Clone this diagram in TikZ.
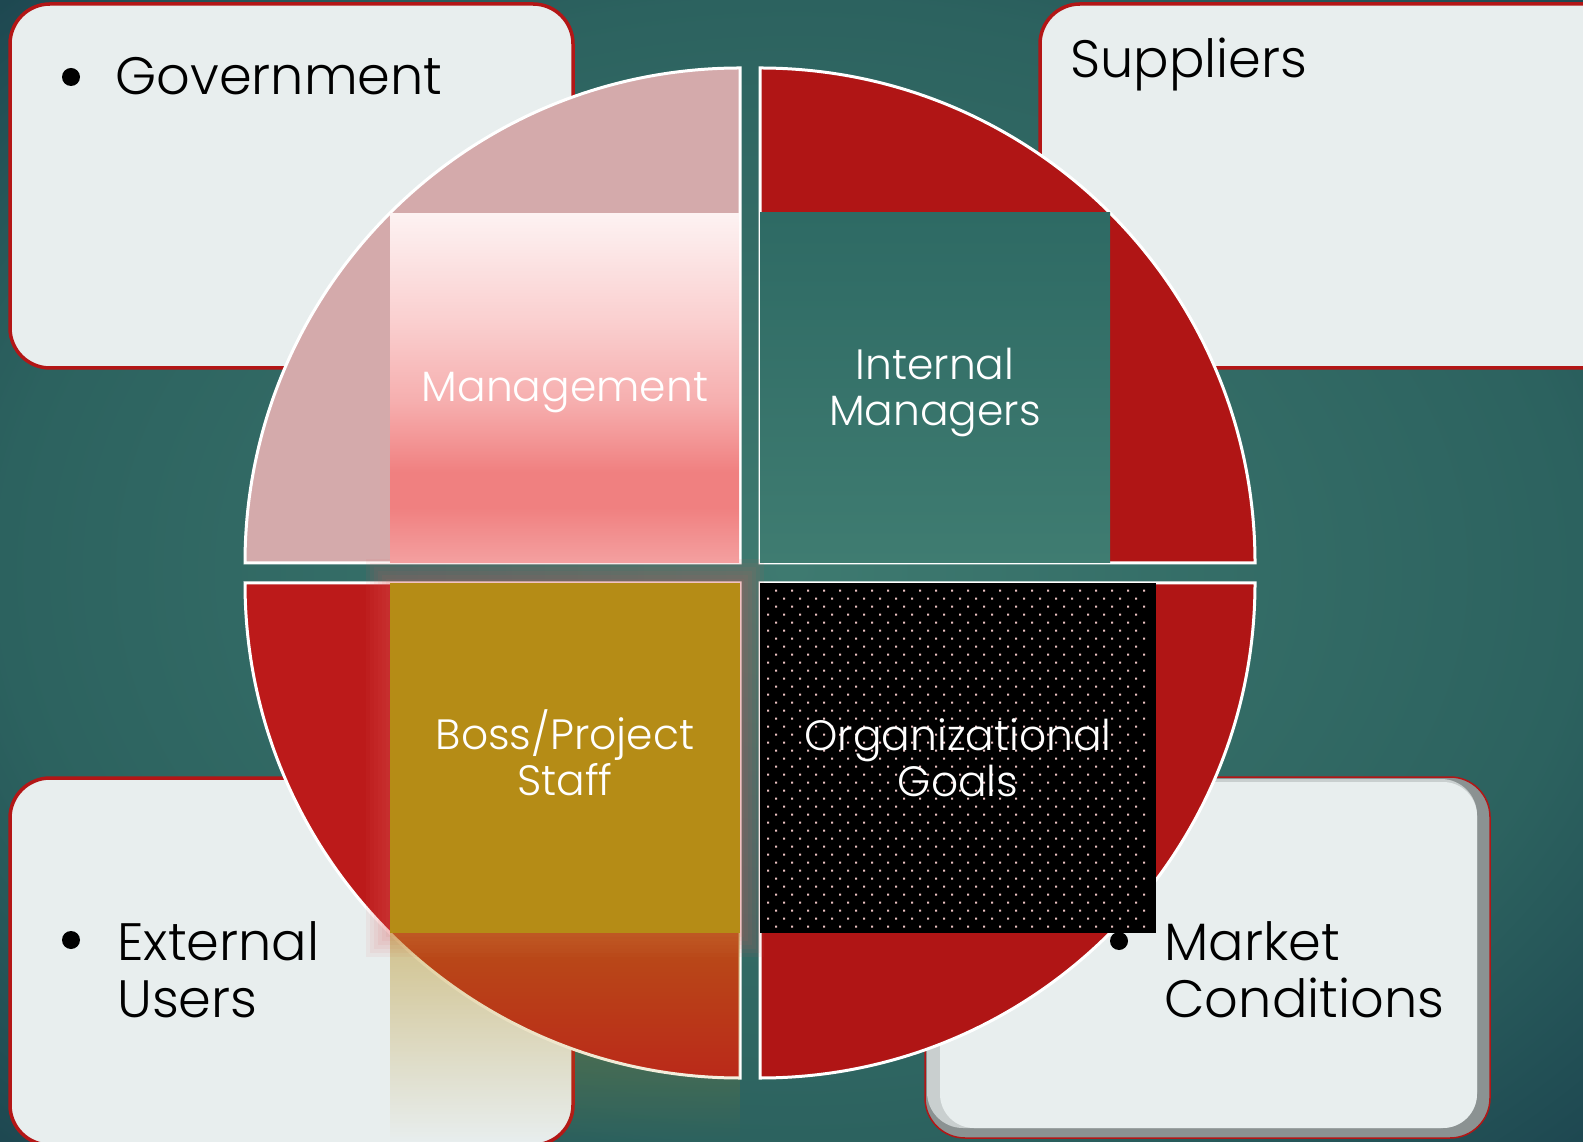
\documentclass[tikz,border=0pt]{standalone}
\usepackage{fontspec}
\setmainfont{Poppins Light}
\usetikzlibrary{fadings}

\definecolor{bgin}{HTML}{3E7A70}
\definecolor{bgmid}{HTML}{2C625F}
\definecolor{bgout}{HTML}{1D4650}
\definecolor{boxfill}{HTML}{E8EEEE}
\definecolor{boxred}{HTML}{B31616}
\definecolor{qpink}{HTML}{D4AAAB}
\definecolor{qred}{HTML}{B01515}
\definecolor{qredb}{HTML}{BC1A1A}
\definecolor{gold}{HTML}{B58C16}
\definecolor{dotcol}{HTML}{ECC2C2}
\definecolor{glowc}{HTML}{E05A5A}
\definecolor{bevdark}{HTML}{8B9292}
\definecolor{bevlight}{HTML}{C9CFCF}
\definecolor{tealtop}{HTML}{2E6A64}
\definecolor{tealbot}{HTML}{3F7C71}
\definecolor{mga}{HTML}{F4A0A0}
\definecolor{mgb}{HTML}{F08080}
\definecolor{mgc}{HTML}{F6AEAE}
\definecolor{mgd}{HTML}{FAD0D0}
\definecolor{mge}{HTML}{FDF2F2}

\pgfdeclareverticalshading{mgmtshade}{100bp}{color(0bp)=(mga); color(25bp)=(mga); color(33bp)=(mgb); color(38bp)=(mgb); color(48bp)=(mgc); color(60bp)=(mgd); color(75bp)=(mge); color(100bp)=(mge)}
\pgfdeclareradialshading{bgshade}{\pgfpoint{0bp}{0bp}}{color(0bp)=(bgin); color(25bp)=(bgmid); color(36bp)=(bgout); color(50bp)=(bgout)}

\begin{document}
\begin{tikzpicture}[x=0.5pt,y=0.5pt,
  outerbox/.style={draw=boxred, line width=1.75pt, fill=boxfill, rounded corners=20pt},
  outertext/.style={font=\fontsize{26.3}{28.5}\selectfont, text=black, inner sep=0pt},
  innertext/.style={font=\fontsize{21.2}{23}\selectfont, text=white, inner sep=0pt, align=center},
  quarter/.style={draw=white, line width=1.5pt},
  bul/.style={circle, fill=black, inner sep=0pt, minimum size=9pt}]

\useasboundingbox (0,0) rectangle (1583,1141);
\clip (0,0) rectangle (1583,1141);
\shade[shading=bgshade] (0,0) rectangle (1583,1141);

% outer boxes
\draw[outerbox] (10,773) rectangle (573,1137);
\node[bul] (govb) at (71,1064) {};
\node[outertext, anchor=base west] (gov) at (115,1046) {Government};

\draw[outerbox] (1040,773) rectangle (1625,1137);
\node[outertext, anchor=base west] (sup) at (1070,1063) {Suppliers};

\draw[outerbox] (10,-4) rectangle (573,363);
\node[bul] (extb) at (71,201) {};
\node[outertext, anchor=west, align=left] (ext) at (117,171.7) {External\\Users};

\filldraw[fill=bevdark, draw=boxred, line width=0.75pt, rounded corners=20pt] (925,3) rectangle (1490,364);
\fill[bevlight, rounded corners=18pt] (927,13) rectangle (1477,362);
\fill[boxfill, rounded corners=17pt] (940,13) rectangle (1477,359);
\node[bul] (mktb) at (1119,200) {};
\node[outertext, anchor=west, align=left] (mkt) at (1164,171.7) {Market\\Conditions};

% quarters
\filldraw[quarter, fill=qpink] (740,578) -- (245,578) arc[start angle=180, end angle=90, radius=495] -- cycle;
\filldraw[quarter, fill=qred] (760,578) -- (760,1073) arc[start angle=90, end angle=0, radius=495] -- cycle;
\filldraw[quarter, fill=qredb] (740,558) -- (245,558) arc[start angle=180, end angle=270, radius=495] -- cycle;
\filldraw[quarter, fill=qred] (760,558) -- (1255,558) arc[start angle=0, end angle=-90, radius=495] -- cycle;

% glow around boss box
\foreach \d in {4,8,...,24} \fill[glowc, fill opacity=0.07] (390-\d,208-\d) rectangle (740+\d,558+\d);
% reflection
\fill[gold, fill opacity=0.45, path fading=south] (390,0) rectangle (740,208);

% inner boxes
\shade[shading=mgmtshade] (390,578) rectangle (739,927);
\node[innertext, anchor=base] (mgmt) at (565,739) {Management};

\shade[top color=tealtop, bottom color=tealbot] (760,578) rectangle (1110,928);
\node[innertext] (intm) at (935,748.5) {Internal\\Managers};

\fill[gold] (390,208) rectangle (740,558);
\node[innertext] (boss) at (565,388) {Boss/Project\\Staff};

\fill[black] (760,208) rectangle (1156,558);
\fill[dotcol] \foreach \r in {0,...,42} { \foreach \c in {0,...,23} { ({776-8*mod(\r,2)+16*\c-1},{550.3-8*\r-1}) rectangle ++(2,2) } };
\node[innertext] (org) at (958,383.5) {Organizational\\Goals};

\end{tikzpicture}
\end{document}
